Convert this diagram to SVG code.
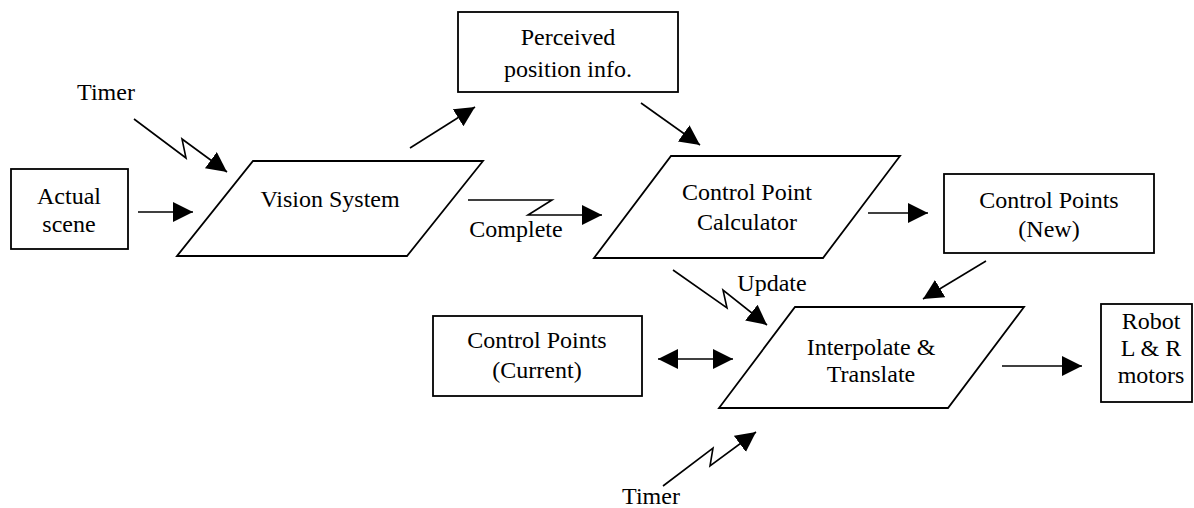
<svg xmlns="http://www.w3.org/2000/svg" width="1194" height="508" viewBox="0 0 1194 508">
<style>
.box{fill:#fff;stroke:#000;stroke-width:1.8}
.ln{fill:none;stroke:#000;stroke-width:1.6}
.t{font-family:'Liberation Serif','Times New Roman',serif;font-size:24px;fill:#000;text-anchor:middle}
</style>
<defs>
<marker id="ah" markerUnits="userSpaceOnUse" markerWidth="22" markerHeight="22" refX="20" refY="10" orient="auto-start-reverse" viewBox="0 0 22 22">
<path d="M0,0 L20,10 L0,20 z" fill="#000"/>
</marker>
</defs>
<rect width="1194" height="508" fill="#fff"/>
<g id="connectors">
<path class="ln" d="M134,119 L186,158 L182,139 L227,172" marker-end="url(#ah)"/>
<path class="ln" d="M138,212 L193,212" marker-end="url(#ah)"/>
<path class="ln" d="M410,148 L475,107" marker-end="url(#ah)"/>
<path class="ln" d="M641,103 L700,145" marker-end="url(#ah)"/>
<path class="ln" d="M468,200 L552,200 L528,215 L602,215" marker-end="url(#ah)"/>
<path class="ln" d="M868,213 L928,213" marker-end="url(#ah)"/>
<path class="ln" d="M986,261 L923,299" marker-end="url(#ah)"/>
<path class="ln" d="M673,270 L727,308 L723,290 L767,325" marker-end="url(#ah)"/>
<path class="ln" d="M658,359 L733,359" marker-start="url(#ah)" marker-end="url(#ah)"/>
<path class="ln" d="M663,486 L713,448 L710,466 L756,432" marker-end="url(#ah)"/>
<path class="ln" d="M1002,366 L1082,366" marker-end="url(#ah)"/>
</g>
<g id="actual-scene">
<rect class="box" x="11" y="169" width="117" height="80"/>
<text class="t" x="69" y="204">Actual</text>
<text class="t" x="69" y="232">scene</text>
</g>
<g id="timer-1"><text class="t" x="106" y="100">Timer</text></g>
<g id="vision-system">
<polygon class="box" points="253,161 483,161 407,256 177,256"/>
<text class="t" x="330" y="207">Vision System</text>
</g>
<g id="perceived">
<rect class="box" x="458" y="12" width="220" height="80"/>
<text class="t" x="568" y="45">Perceived</text>
<text class="t" x="568" y="77">position info.</text>
</g>
<g id="complete-label"><text class="t" x="516" y="237">Complete</text></g>
<g id="cpc">
<polygon class="box" points="671,156 900,156 823,258 594,258"/>
<text class="t" x="747" y="200">Control Point</text>
<text class="t" x="747" y="230">Calculator</text>
</g>
<g id="cp-new">
<rect class="box" x="944" y="174" width="210" height="79"/>
<text class="t" x="1049" y="208">Control Points</text>
<text class="t" x="1049" y="237">(New)</text>
</g>
<g id="update-label"><text class="t" x="772" y="291">Update</text></g>
<g id="cp-current">
<rect class="box" x="433" y="316" width="209" height="80"/>
<text class="t" x="537" y="348">Control Points</text>
<text class="t" x="537" y="378">(Current)</text>
</g>
<g id="interpolate">
<polygon class="box" points="795,307 1024,307 948,408 719,408"/>
<text class="t" x="871" y="355">Interpolate &amp;</text>
<text class="t" x="871" y="382">Translate</text>
</g>
<g id="robot">
<rect class="box" x="1101" y="304" width="91" height="98"/>
<text class="t" x="1151" y="329">Robot</text>
<text class="t" x="1151" y="356">L &amp; R</text>
<text class="t" x="1151" y="383">motors</text>
</g>
<g id="timer-2"><text class="t" x="651" y="504">Timer</text></g>
</svg>
